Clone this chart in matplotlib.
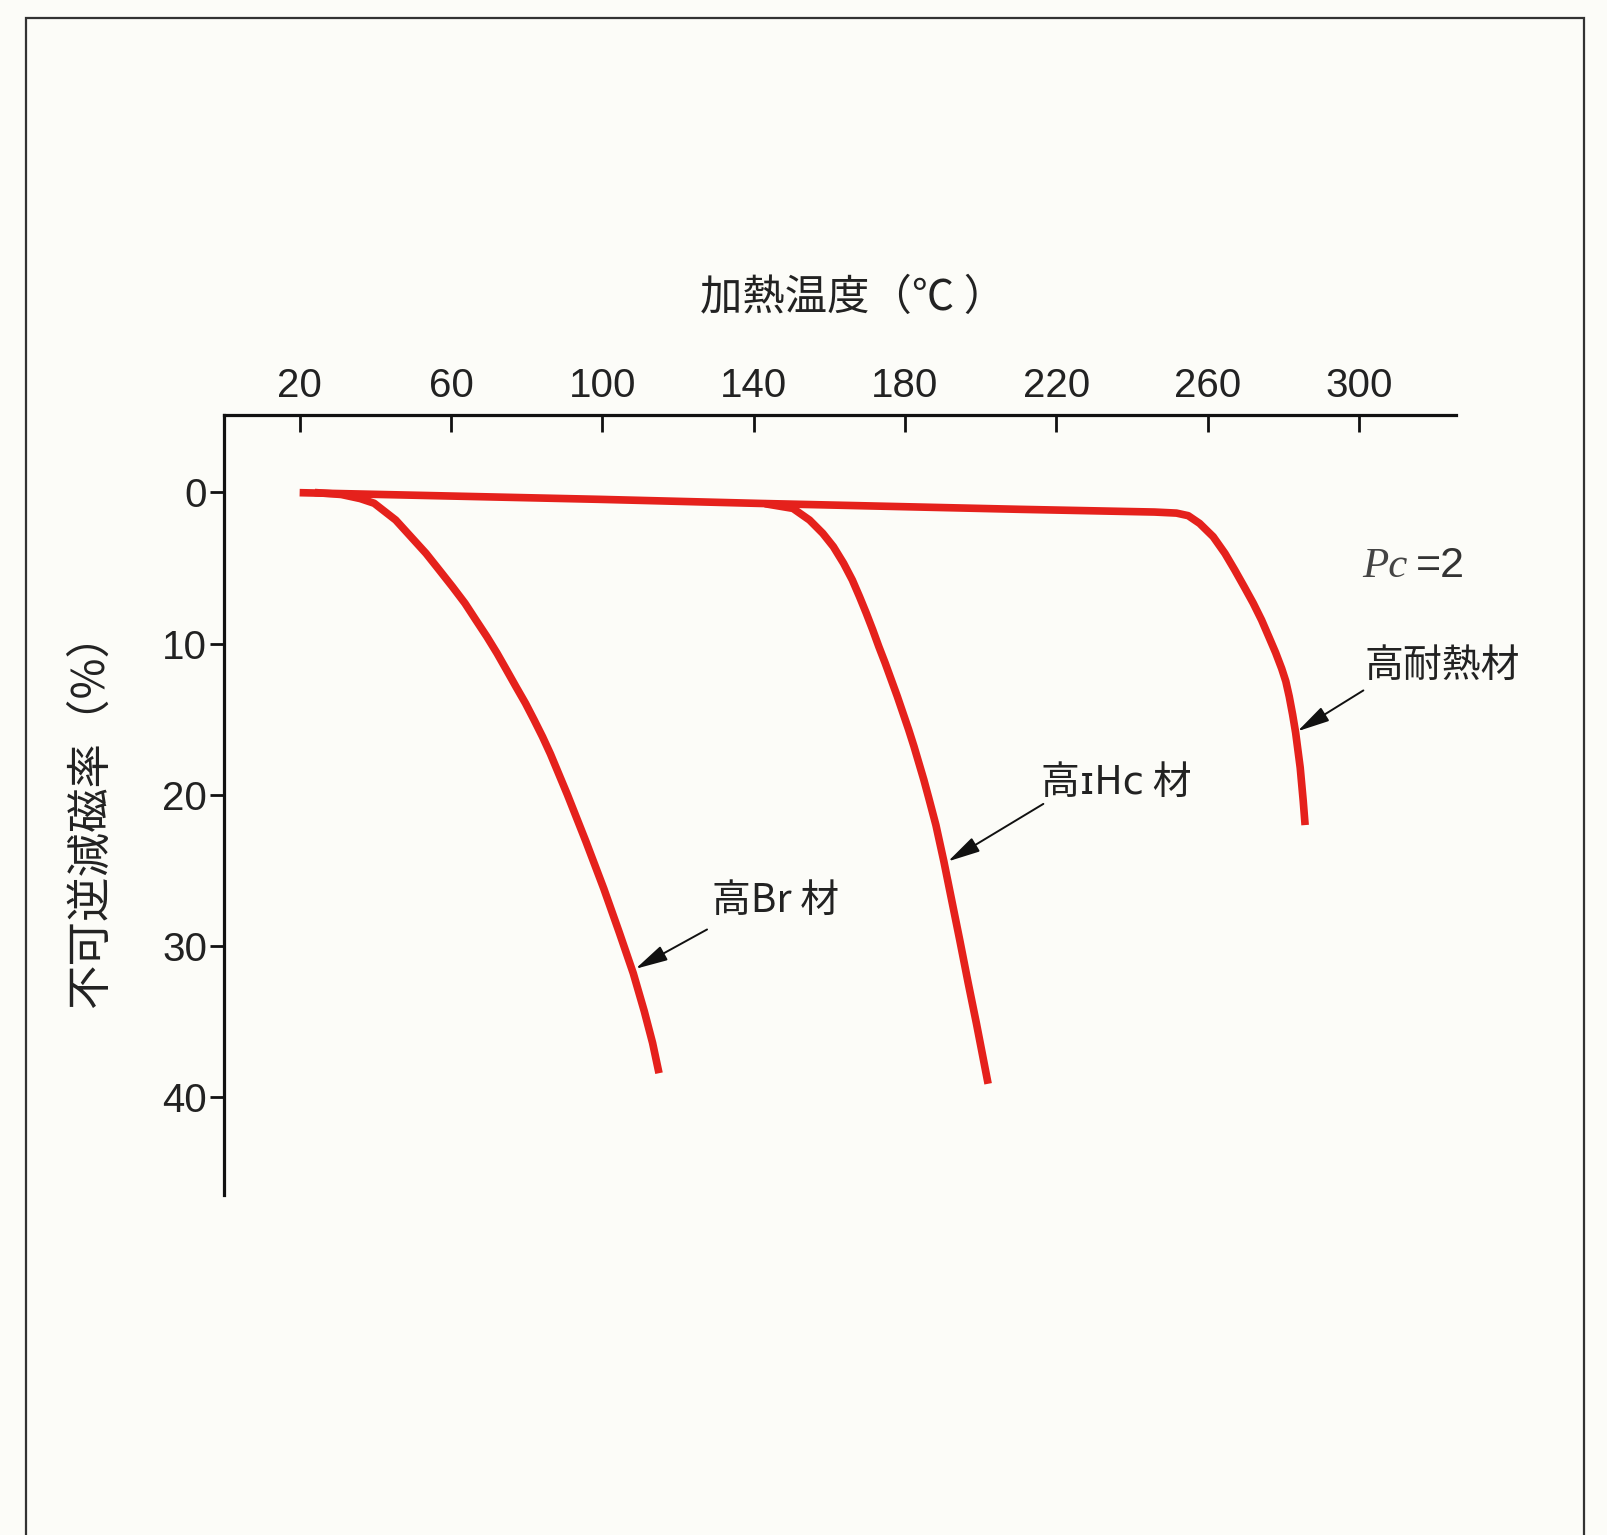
import matplotlib
matplotlib.use("Agg")
import matplotlib.pyplot as plt
from matplotlib.patches import Rectangle

# heating temperature (C) vs irreversible loss (%)
heat_temp = [20, 99.2, 141.6, 210.3, 238.0, 246.0, 251.8, 254.9, 257.9, 261.5, 264.6, 267.2, 269.7,
             272.1, 274.3, 276.2, 278.0, 279.6, 280.7, 281.6, 282.5, 283.3, 284.5, 285.3, 285.8]
heat_loss = [0.03, 0.47, 0.74, 1.13, 1.27, 1.31, 1.38, 1.55, 2.06, 2.94, 4.04, 5.14, 6.25,
             7.34, 8.45, 9.55, 10.6, 11.65, 12.5, 13.5, 14.7, 15.9, 18.2, 20.4, 22.0]

br_temp = [24, 31, 36, 39.7, 45.4, 49.4, 53.4, 56.9, 60.4, 63.7, 66.6, 69.5, 72.2, 74.7,
           77.2, 79.7, 82.0, 84.2, 86.3, 90.8, 95.7, 100.4, 104.5, 108.2, 111.1, 113.3, 115.0]
br_loss = [0.02, 0.15, 0.42, 0.73, 1.84, 2.94, 4.04, 5.14, 6.25, 7.34, 8.45, 9.55, 10.65, 11.75,
           12.86, 13.95, 15.06, 16.16, 17.3, 20.0, 23.1, 26.2, 29.1, 31.8, 34.3, 36.4, 38.4]

ihc_temp = [143.0, 150.4, 154.8, 158.3, 161.1, 163.8, 166.1, 168.0, 169.8, 171.5, 173.1, 174.8, 176.4,
            178.0, 179.5, 181.0, 182.4, 183.7, 185.0, 186.3, 188.2, 190.3, 192.4, 194.5, 196.7, 198.9, 202.0]
ihc_loss = [0.76, 1.07, 1.84, 2.72, 3.6, 4.7, 5.8, 6.9, 8.0, 9.1, 10.2, 11.3, 12.4,
            13.5, 14.6, 15.7, 16.8, 17.9, 19.0, 20.2, 22.0, 24.4, 27.0, 29.6, 32.4, 35.1, 39.1]

xticks = [20, 60, 100, 140, 180, 220, 260, 300]
yticks = [0, 10, 20, 30, 40]

RED = "#e5211c"
INK = "#222222"
JP = ["Noto Sans CJK JP", "DejaVu Sans"]
NUM = ["Liberation Sans", "DejaVu Sans"]

fig = plt.figure(figsize=(16.08, 15.35), dpi=100, facecolor="#fcfcf8")
ax = fig.add_axes([0.1393, 0.2215, 0.7662, 0.5081])
ax.set_facecolor("none")

for t, v in [(heat_temp, heat_loss), (br_temp, br_loss), (ihc_temp, ihc_loss)]:
    ax.plot(t, v, color=RED, lw=5.5, solid_capstyle="butt", solid_joinstyle="round")

ax.set_xlim(0, 325.7)
ax.set_ylim(46.45, -5.1)

for s in ["right", "bottom"]:
    ax.spines[s].set_visible(False)
for s in ["top", "left"]:
    ax.spines[s].set_linewidth(2.3)
    ax.spines[s].set_color("#111111")

ax.xaxis.tick_top()
ax.set_xticks(xticks)
ax.set_yticks(yticks)
ax.tick_params(axis="x", direction="in", length=12, width=2, pad=7, color="#111111")
ax.tick_params(axis="y", direction="out", length=10, width=2, pad=2, color="#111111")
for lab in ax.get_xticklabels() + ax.get_yticklabels():
    lab.set_fontfamily(NUM)
    lab.set_fontsize(29)
    lab.set_color(INK)

fig.text(853 / 1608, 1 - 298 / 1535, "加熱温度（℃ ）", family=JP, fontsize=30.5,
         ha="center", va="center", color=INK)
fig.text(90 / 1608, 1 - 810 / 1535, "不可逆減磁率（%）", family=JP, fontsize=32,
         ha="center", va="center", rotation=90, color=INK)

arrow = dict(arrowstyle="-|>,head_length=0.9,head_width=0.22", color="#111111",
             lw=1.4, mutation_scale=22, shrinkA=0, shrinkB=0)

ax.annotate("", xy=(108.8, 31.5), xytext=(127.7, 28.9), arrowprops=arrow)
ax.text(129.1, 27.0, "高Br 材", family=JP, fontsize=28, ha="left", va="center", color=INK)

ax.annotate("", xy=(191.4, 24.4), xytext=(216.6, 20.6), arrowprops=arrow)
ax.text(215.9, 19.2, "高ɪHᴄ 材", family=JP, fontsize=28, ha="left", va="center", color=INK)

ax.annotate("", xy=(283.8, 15.8), xytext=(301.2, 13.1), arrowprops=arrow)
ax.text(301.6, 11.5, "高耐熱材", family=JP, fontsize=28, ha="left", va="center", color=INK)

ax.text(301.0, 4.9, "Pc", family="Liberation Serif", style="italic", fontsize=31,
        ha="left", va="center", color="#444444")
ax.text(315.0, 4.9, "=2", family=NUM, fontsize=31, ha="left", va="center", color="#333333")

fig.patches.append(Rectangle((25.6 / 1608, -0.05), (1584 - 25.6) / 1608, 1.05 - 18 / 1535,
                             transform=fig.transFigure, fill=False, edgecolor="#333333", lw=1.6))

fig.savefig("out.png", dpi=100, facecolor=fig.get_facecolor())
